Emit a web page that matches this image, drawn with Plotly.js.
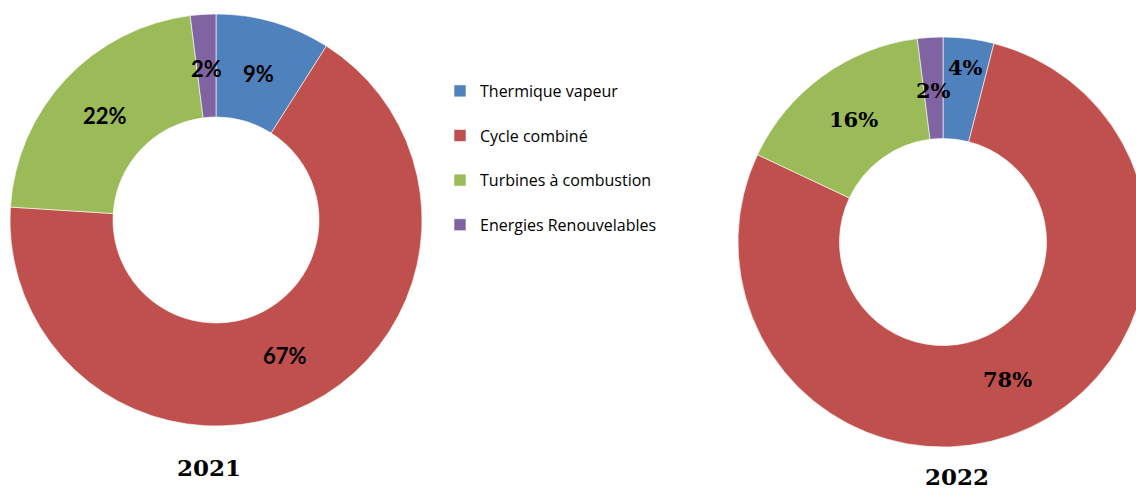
<!DOCTYPE html>
<html>
<head>
<meta charset="utf-8">
<script src="https://cdn.plot.ly/plotly-3.0.1.min.js"></script>
<style>
html,body{margin:0;padding:0;overflow:hidden;background:#fff;}
#chart{width:1160px;height:492px;}
</style>
</head>
<body>
<div id="chart"></div>
<script>
// ---- data ----
const categories = ['Thermique vapeur', 'Cycle combiné', 'Turbines à combustion', 'Energies Renouvelables'];
const values2021 = [9, 67, 22, 2];
const values2022 = [4, 78, 16, 2];
const years = ['2021', '2022'];

// ---- style ----
const colors = ['#4F81BD', '#C0504D', '#9BBB59', '#8064A2'];
const W = 1160, H = 492;
const pies = [
  {values: values2021, year: years[0], cx: 216, cy: 220, r: 206, hole: 0.5,
   labelFont: {family: 'Lato, "Liberation Sans", sans-serif', size: 22, color: '#000'},
   labelShift: [0, 0, 0, 0], titleX: 209, titleY: 467},
  {values: values2022, year: years[1], cx: 943, cy: 242, r: 205, hole: 0.505,
   labelFont: {family: '"DejaVu Serif", serif', size: 21, color: '#000'},
   labelShift: [24, 0, 0, 0], titleX: 957, titleY: 476}
];

const traces = [];
const annotations = [];
pies.forEach((p, i) => {
  traces.push({
    type: 'pie',
    labels: categories.map(c => c + '<br> '),
    values: p.values,
    hole: p.hole,
    sort: false,
    direction: 'clockwise',
    rotation: 0,
    textinfo: 'none',
    hoverinfo: 'label+percent',
    marker: {colors: colors, line: {color: '#ffffff', width: 0.6}},
    domain: {x: [(p.cx - p.r) / W, (p.cx + p.r) / W], y: [1 - (p.cy + p.r) / H, 1 - (p.cy - p.r) / H]},
    showlegend: i === 0
  });
  // slice labels on the bisector of each slice, middle of the ring
  const total = p.values.reduce((a, b) => a + b, 0);
  let cum = 0;
  p.values.forEach((v, k) => {
    const mid = (cum + v / 2) / total * 2 * Math.PI;
    cum += v;
    const rr = p.r * (1 + p.hole) / 2 * 0.985 + p.labelShift[k];
    const x = p.cx + rr * Math.sin(mid);
    const y = p.cy - rr * Math.cos(mid);
    annotations.push({
      xref: 'paper', yref: 'paper', x: x / W, y: 1 - y / H,
      xanchor: 'center', yanchor: 'middle', showarrow: false,
      text: '<b>' + Math.round(v / total * 100) + '%</b>',
      font: p.labelFont
    });
  });
  annotations.push({
    xref: 'paper', yref: 'paper', x: p.titleX / W, y: 1 - p.titleY / H,
    xanchor: 'center', yanchor: 'middle', showarrow: false,
    text: '<b>' + p.year + '</b>',
    font: {family: '"DejaVu Serif", serif', size: 23, color: '#000'}
  });
});

const layout = {
  width: W, height: H,
  margin: {l: 0, r: 0, t: 0, b: 0},
  paper_bgcolor: '#ffffff',
  showlegend: true,
  legend: {
    x: 440 / W, y: 1 - 74 / H, xanchor: 'left', yanchor: 'top',
    font: {family: '"Open Sans", Lato, sans-serif', size: 16, color: '#000'},
    valign: 'top', itemwidth: 30, bgcolor: 'rgba(0,0,0,0)'
  },
  annotations: annotations
};

Plotly.newPlot('chart', traces, layout, {displayModeBar: false, staticPlot: true});
</script>
</body>
</html>
